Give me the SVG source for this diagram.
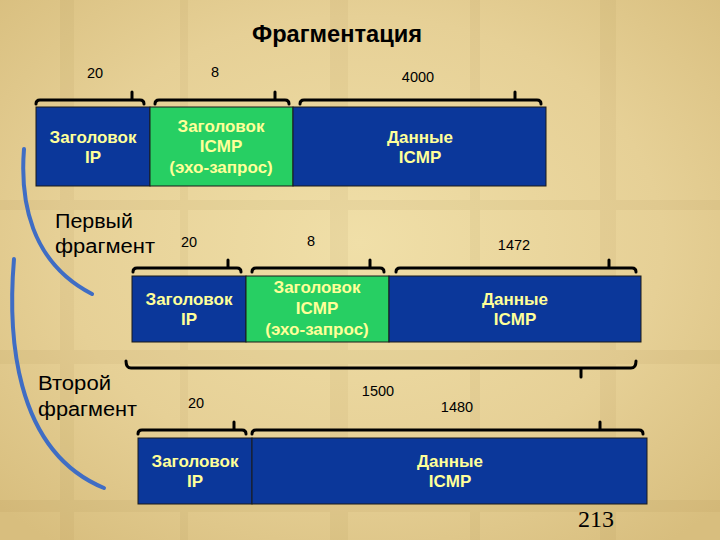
<svg xmlns="http://www.w3.org/2000/svg" width="720" height="540" viewBox="0 0 720 540">
<defs>
<radialGradient id="bg" cx="50%" cy="45%" r="70%">
<stop offset="0" stop-color="#F0DFA8"/>
<stop offset="0.6" stop-color="#E6D096"/>
<stop offset="1" stop-color="#D8BE7E"/>
</radialGradient>
<style>
.blue{fill:#0B379A;stroke:#1a1a1a;stroke-width:1}
.green{fill:#27CF63;stroke:#1a1a1a;stroke-width:1}
.bt{font-family:"Liberation Sans",Arial,sans-serif;font-weight:bold;font-size:17px;fill:#FFFF99;text-anchor:middle}
.num{font-family:"Liberation Sans",Arial,sans-serif;font-size:14.5px;fill:#000;text-anchor:middle}
.lbl{font-family:"Liberation Sans",Arial,sans-serif;font-size:20px;fill:#000}
.br{fill:none;stroke:#000;stroke-width:3;stroke-linecap:round;stroke-linejoin:round}
.arc{fill:none;stroke:#3F6DC4;stroke-width:4;stroke-linecap:round}
</style>
</defs>
<rect x="0" y="0" width="720" height="540" fill="url(#bg)"/>
<g opacity="0.06" fill="#8A6A2A">
<rect x="60" y="0" width="14" height="540"/>
<rect x="180" y="0" width="8" height="540"/>
<rect x="330" y="0" width="18" height="540"/>
<rect x="470" y="0" width="10" height="540"/>
<rect x="600" y="0" width="16" height="540"/>
<rect x="0" y="200" width="720" height="10"/>
<rect x="0" y="350" width="720" height="14"/>
<rect x="0" y="500" width="720" height="12"/>
</g>
<text x="337" y="42" font-family="'Liberation Sans',Arial,sans-serif" font-weight="bold" font-size="23" text-anchor="middle" fill="#000" textLength="170" lengthAdjust="spacingAndGlyphs">Фрагментация</text>

<g id="row1">
<g id="r1-ip"><rect class="blue" x="36" y="107" width="114" height="79"/>
<text class="bt" x="93" y="143">Заголовок</text><text class="bt" x="93" y="163">IP</text></g>
<g id="r1-icmp"><rect class="green" x="150" y="107" width="143" height="79"/>
<text class="bt" x="221" y="132">Заголовок</text><text class="bt" x="221" y="152">ICMP</text><text class="bt" x="221" y="173">(эхо-запрос)</text></g>
<g id="r1-data"><rect class="blue" x="293" y="107" width="253" height="79"/>
<text class="bt" x="420" y="143">Данные</text><text class="bt" x="420" y="163">ICMP</text></g>
</g>

<g id="row2">
<g id="r2-ip"><rect class="blue" x="132" y="276" width="114" height="66"/>
<text class="bt" x="189" y="305">Заголовок</text><text class="bt" x="189" y="325">IP</text></g>
<g id="r2-icmp"><rect class="green" x="246" y="276" width="143" height="66"/>
<text class="bt" x="317" y="293">Заголовок</text><text class="bt" x="317" y="314">ICMP</text><text class="bt" x="317" y="335">(эхо-запрос)</text></g>
<g id="r2-data"><rect class="blue" x="389" y="276" width="252" height="66"/>
<text class="bt" x="515" y="305">Данные</text><text class="bt" x="515" y="325">ICMP</text></g>
</g>

<g id="row3">
<g id="r3-ip"><rect class="blue" x="138" y="438" width="114" height="66"/>
<text class="bt" x="195" y="467">Заголовок</text><text class="bt" x="195" y="487">IP</text></g>
<g id="r3-data"><rect class="blue" x="252" y="438" width="395" height="66"/>
<text class="bt" x="450" y="467">Данные</text><text class="bt" x="450" y="487">ICMP</text></g>
</g>

<g id="connectors">
<path class="br" d="M36,104 Q36,100 40,100 H140 Q144,100 144,104 M132,100 V92"/>
<path class="br" d="M155,104 Q155,100 159,100 H285 Q289,100 289,104 M275,100 V92"/>
<path class="br" d="M300,104 Q300,100 304,100 H537 Q541,100 541,104 M515,100 V92"/>

<path class="br" d="M133,272 Q133,268 137,268 H237 Q241,268 241,272 M228,268 V260"/>
<path class="br" d="M252,272 Q252,268 256,268 H380 Q384,268 384,272 M370,268 V260"/>
<path class="br" d="M396,272 Q396,268 400,268 H632 Q636,268 636,272 M609,268 V260"/>

<path class="br" d="M126,361 Q126,368 131,368 H631 Q636,368 636,361 M581,368 V377"/>

<path class="br" d="M138,434 Q138,430 142,430 H242 Q246,430 246,434 M234,430 V422"/>
<path class="br" d="M252,434 Q252,430 256,430 H639 Q643,430 643,434 M600,430 V422"/>

<path class="arc" d="M24,149 C20,200 30,262 92,294"/>
<path class="arc" d="M14,259 C8,330 12,450 104,488"/>
</g>

<g id="labels">
<text class="num" x="95" y="78">20</text>
<text class="num" x="215" y="77">8</text>
<text class="num" x="418" y="82">4000</text>
<text class="num" x="189" y="247">20</text>
<text class="num" x="311" y="246">8</text>
<text class="num" x="514" y="250">1472</text>
<text class="num" x="378" y="396">1500</text>
<text class="num" x="196" y="408">20</text>
<text class="num" x="457" y="412">1480</text>
<text class="lbl" x="55" y="228" textLength="78" lengthAdjust="spacingAndGlyphs">Первый</text>
<text class="lbl" x="55" y="253" textLength="100" lengthAdjust="spacingAndGlyphs">фрагмент</text>
<text class="lbl" x="38" y="390" textLength="73" lengthAdjust="spacingAndGlyphs">Второй</text>
<text class="lbl" x="38" y="416" textLength="99" lengthAdjust="spacingAndGlyphs">фрагмент</text>
<text x="596" y="527" font-family="'Liberation Serif','Times New Roman',serif" font-size="24" text-anchor="middle" fill="#000">213</text>
</g>
</svg>
